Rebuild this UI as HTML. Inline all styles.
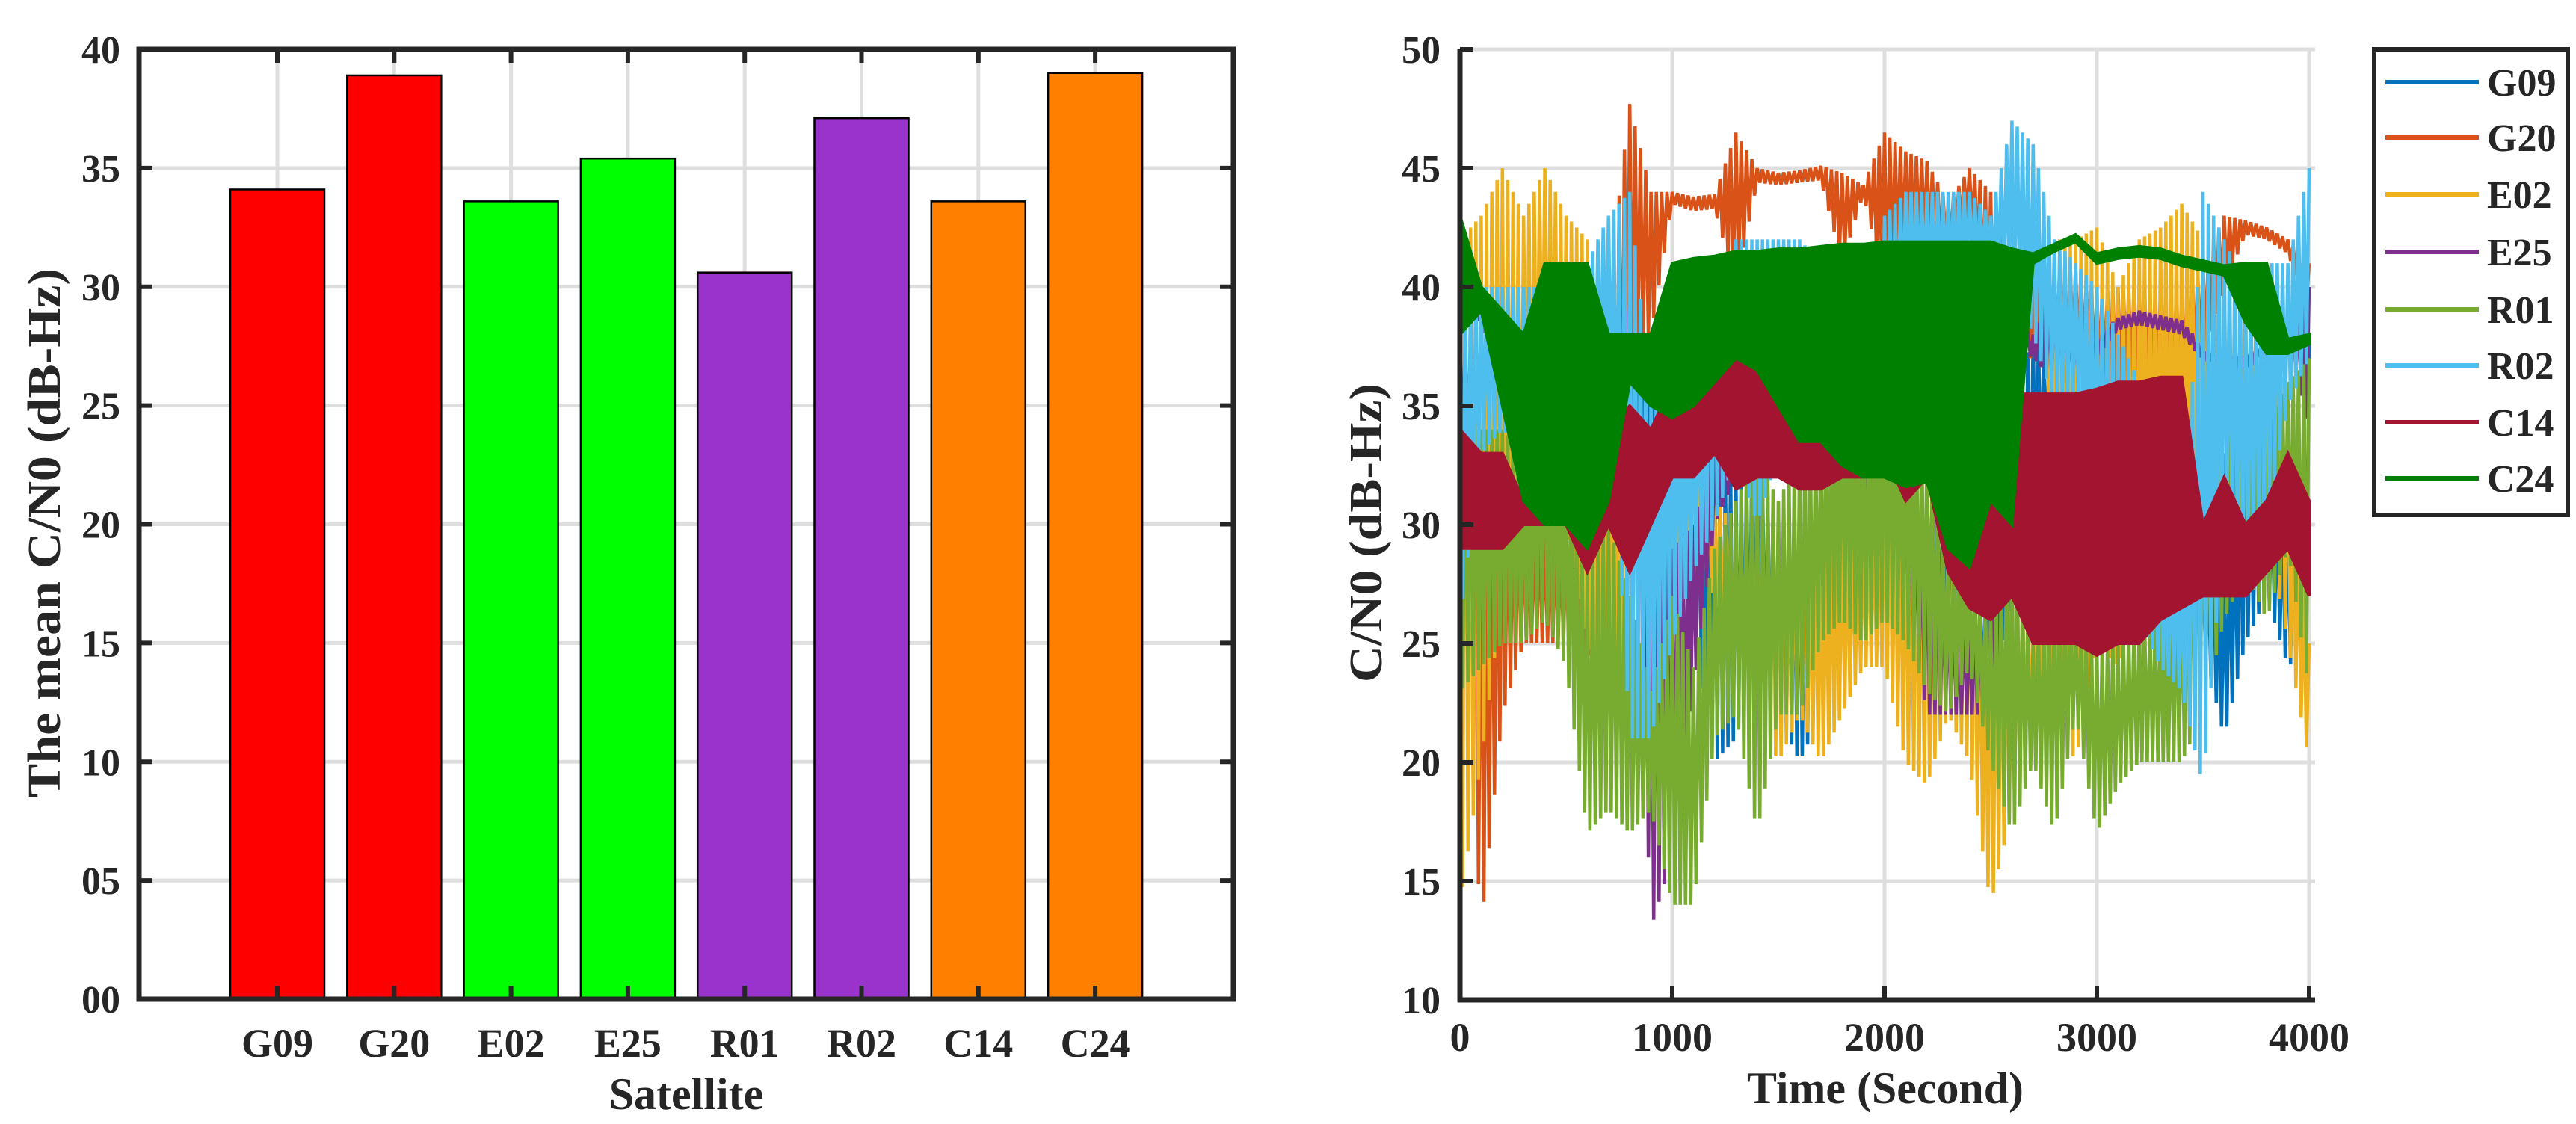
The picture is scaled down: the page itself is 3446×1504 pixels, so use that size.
<!DOCTYPE html>
<html><head><meta charset="utf-8"><style>
html,body{margin:0;padding:0;background:#fff;}
svg{display:block;}
text{font-family:"Liberation Serif",serif;font-weight:bold;fill:#262626;}
</style></head><body>
<svg id="fig" width="3446" height="1504" viewBox="0 0 3446 1504" xmlns="http://www.w3.org/2000/svg">
<g id="left"></g>
<g id="right"></g>
</svg>
<script>
// ---------- Bar chart data ----------
const satellites = ["G09","G20","E02","E25","R01","R02","C14","C24"];
const meanCN0 = [34.1,38.9,33.6,35.4,30.6,37.1,33.6,39.0];
const barColors = ["#ff0000","#ff0000","#00ff00","#00ff00","#9933cc","#9933cc","#ff8000","#ff8000"];
const barTicks = [0,5,10,15,20,25,30,35,40];
const barTickLabels = ["00","05","10","15","20","25","30","35","40"];

// ---------- Time series data (100 s bins, envelope lo/hi) ----------
const times = [0,100,200,300,400,500,600,700,800,900,1000,1100,1200,1300,1400,1500,1600,1700,1800,1900,2000,2100,2200,2300,2400,2500,2600,2700,2800,2900,3000,3100,3200,3300,3400,3500,3600,3700,3800,3900,4000];
const seriesNames = ["G09","G20","E02","E25","R01","R02","C14","C24"];
const g09Hi = [38,38,37,37,37,36,36,37,38,38,40,35,33,32,33,30,30,30,32,34,34,33,32,30,28,27,35,38,38,39,39,39,38,35,30,28,28,33,32,30,38];
const g09Lo = [33,33,33,33,33,32,32,32,33,33,33,25,20,21,24,22,20,22,25,27,28,27,26,25,22,22,27,30,32,30,31,28,30,29,25,25,21,25,27,24,25];
const g20Hi = [41,30,32,30,30,29,28,40,47.7,44,44,43.8,43.9,46.5,45,44.8,44.9,45.1,44.8,44.3,46.5,45.7,45.3,43.5,45,44,41,41,41,41,40,40,40,40,40,41,43,42.8,42.5,42,41];
const g20Lo = [28,13,22,25,25,25,24,28,37,38,43.5,43.2,43.3,40,44.4,44.3,44.4,44.5,41,43.9,40,42,42,42,43,38,37,37,37,37,36,36,36,36,36,37,40,42.2,42,41.4,39];
const e02Hi = [42,43,45,43,45,43,42,38,36,32,31,33,31,30,31,31,30,29,30,30,32,31,30,30,29,27,28,27,42,42,42.5,40,42,42.5,43.5,42,41,40,40,35,25];
const e02Lo = [14,20,27,30,35,30,25,23,25,27,27,28,27,23,22,20,22,20,22,24,24,20,19,22,20,14,18,20,22,20,25,24,27,28,27,29,30,31,30,25,20];
const e25Hi = [40,39.5,37,36,37,37,37,40,40,29,29,30,33,34,34.5,34,34,34,34,33,32,31,30,27,26,26,38.5,38,40,37.5,38,38.7,39,38.8,38.6,37.5,37.2,37.2,37.7,38.2,40];
const e25Lo = [39,38.5,35,34,35,35,35,37,37,13,16,23,30,32,33.5,32,32,32,32,31,30,27,22,22,22,22,37.5,37,36,36.5,37,38.2,38.4,38.2,38,36.9,36.8,36.8,37.2,37.8,34];
const r01Hi = [34,34,34,33,36,33,28,30,27,23,27,24,29,31,33,31,33,34,36,35,36,35,34,29,28,26,30,25,28,26,25,25,26,26,28,34,33,36,34,36,37];
const r01Lo = [23,24,25,25,26,24,17,18,17,18,14,14,21,22,17,22,22,25,26,25,26,25,23,22,24,20,17,20,17,22,17,19,20,20,20,22,26,28,26,29,23];
const r02Hi = [40,40,40,40,40,40,41,43,44,35,38,36,40,42,42,42,42,41,41,37,43,44,44,44,44,43,47,46,42,41,40,38,36,30,28,44,42,40,41,41,45];
const r02Lo = [26,33,34,33,35,35,35,37,21,21,25,28,30,33,30,33,35,36,35,35,36,40,40,40,41,41,40,38,35,35,31,29,26,24,23,19,30,28,30,35,37];
const c14Hi = [34,33,33,31,36,36,37,34,35,34,36,37.5,37.5,37.5,37.5,36,35,34.5,34,34,35,32,33,32,31,33.5,35.5,35.5,35.5,35.5,35.7,36,36,36.2,36.2,30,32,30,31,33,31];
const c14Lo = [29,29,29,30,30,30,28,30,28,30,32,32,33,31.5,32,32,31.5,31.5,32,32,33,31,32,28,26.5,26,27,25,25,25,24.5,25,25,26,26.5,27,27,27,28,29,27];
const c24Hi = [43,40,39,38,41,41,41,38,38,38,41,41.2,41.3,41.5,41.5,41.6,41.6,41.7,41.8,41.8,41.9,41.9,41.9,41.9,41.9,41.9,41.6,41.4,41.8,42.2,41.4,41.6,41.7,41.6,41.3,41.1,40.9,41.0,41.0,37.8,38.0];
const c24Lo = [38,39,35,31,30,30,29,31,36,35,34.5,35,36,37,36.5,35,33.5,33.5,32.5,32,32,31.6,31.8,29,28.2,31,30,41,41.5,41.9,41.0,41.2,41.3,41.2,40.9,40.7,40.5,38.5,37.2,37.2,37.6];
const timeTicks = [0,1000,2000,3000,4000];
const cnTicks = [10,15,20,25,30,35,40,45,50];

const NS = "http://www.w3.org/2000/svg";
function mk(tag, attrs, parent){const e=document.createElementNS(NS,tag);for(const k in attrs)e.setAttribute(k,attrs[k]);parent.appendChild(e);return e;}

// ================= LEFT: bar chart =================
(function(){
  const g = document.getElementById('left');
  const L=186,R=1650,T=66,B=1337;
  const firstX=371, step=156.3, bw=126;
  const xOf = i => firstX + i*step;
  const yOf = v => B - (v-0)/(40-0)*(B-T);
  barTicks.forEach((v,i)=>{
    const ln = mk('line',{x1:L,x2:R,y1:yOf(v),y2:yOf(v),stroke:'#dedede','stroke-width':5},g);
    
    
  });
  satellites.forEach((s,i)=>{
    const ln = mk('line',{x1:xOf(i),x2:xOf(i),y1:T,y2:B,stroke:'#dedede','stroke-width':5},g);
    
    
  });
  meanCN0.forEach((v,i)=>{
    const r = mk('rect',{x:xOf(i)-bw/2,y:yOf(v),width:bw,height:B-yOf(v),fill:barColors[i],stroke:'#000','stroke-width':2.5},g);
    
    
  });
  barTicks.forEach((v,i)=>{
    const y=yOf(v);
    mk('line',{x1:L,x2:L+18,y1:y,y2:y,stroke:'#262626','stroke-width':6},g);
    mk('line',{x1:R,x2:R-18,y1:y,y2:y,stroke:'#262626','stroke-width':6},g);
    const t = mk('text',{x:161,y:y+18,'text-anchor':'end','font-size':52},g);
    t.textContent = barTickLabels[i];
    
    
  });
  satellites.forEach((s,i)=>{
    const x=xOf(i);
    mk('line',{x1:x,x2:x,y1:B,y2:B-18,stroke:'#262626','stroke-width':6},g);
    mk('line',{x1:x,x2:x,y1:T,y2:T+18,stroke:'#262626','stroke-width':6},g);
    const t = mk('text',{x:x,y:1414,'text-anchor':'middle','font-size':54},g);
    t.textContent = s;
    
    
  });
  const fr = mk('rect',{x:L,y:T,width:R-L,height:B-T,fill:'none',stroke:'#262626','stroke-width':7},g);
  
  
  const xt = mk('text',{x:918,y:1484,'text-anchor':'middle','font-size':60},g);
  xt.textContent='Satellite';
  
  
  const yt = mk('text',{x:0,y:0,'text-anchor':'middle','font-size':62,transform:'translate(80,713) rotate(-90)',textLength:708,lengthAdjust:'spacingAndGlyphs'},g);
  yt.textContent='The mean C/N0 (dB-Hz)';
  
  
})();

// ================= RIGHT: time series =================
(function(){
  const g = document.getElementById('right');
  const L=1953,R=3097,T=66,B=1338;
  const xOf = t => L + t/4000*(3089-L);
  const yOf = v => B - (v-10)/(50-10)*(B-T);
  const cols = ["#0072BD","#D95319","#EDB120","#7E2F8E","#77AC30","#4DBEEE","#A2142F","#008000"];
  const his = [g09Hi,g20Hi,e02Hi,e25Hi,r01Hi,r02Hi,c14Hi,c24Hi];
  const los = [g09Lo,g20Lo,e02Lo,e25Lo,r01Lo,r02Lo,c14Lo,c24Lo];
  const filled = [false,false,false,false,false,false,true,true];
  cnTicks.forEach(v=>{
    const ln=mk('line',{x1:L,x2:R,y1:yOf(v),y2:yOf(v),stroke:'#dedede','stroke-width':5},g);
    
    
  });
  timeTicks.forEach(t=>{
    const ln=mk('line',{x1:xOf(t),x2:xOf(t),y1:T,y2:B,stroke:'#dedede','stroke-width':5},g);
    
    
  });
  const sub=8;
  seriesNames.forEach((name,s)=>{
    const hi=his[s], lo=los[s];
    const sg = mk('g',{},g);
    
    
    if(filled[s]){
      let d='';
      for(let i=0;i<times.length;i++) d+=(i?'L':'M')+xOf(times[i]).toFixed(1)+' '+yOf(hi[i]).toFixed(1);
      for(let i=times.length-1;i>=0;i--) d+='L'+xOf(times[i]).toFixed(1)+' '+yOf(lo[i]).toFixed(1);
      mk('path',{d:d+'Z',fill:cols[s],stroke:cols[s],'stroke-width':4},sg);
    } else {
      let pts=[];
      for(let i=0;i<times.length-1;i++){
        for(let k=0;k<sub;k++){
          const f=k/sub;
          const h=hi[i]+(hi[i+1]-hi[i])*f, l=lo[i]+(lo[i+1]-lo[i])*f;
          const t=times[i]+(times[i+1]-times[i])*f;
          const v=(k%2===0)?h:l;
          pts.push(xOf(t).toFixed(1)+','+yOf(v).toFixed(1));
        }
      }
      pts.push(xOf(times[times.length-1]).toFixed(1)+','+yOf(hi[times.length-1]).toFixed(1));
      mk('polyline',{points:pts.join(' '),fill:'none',stroke:cols[s],'stroke-width':4.5,'stroke-linejoin':'miter'},sg);
    }
  });
  cnTicks.forEach(v=>{
    const y=yOf(v);
    mk('line',{x1:L,x2:L+18,y1:y,y2:y,stroke:'#262626','stroke-width':6},g);
    const t=mk('text',{x:1927,y:y+18,'text-anchor':'end','font-size':52},g);
    t.textContent=String(v);
    
    
  });
  timeTicks.forEach(tv=>{
    const x=xOf(tv);
    mk('line',{x1:x,x2:x,y1:B,y2:B-18,stroke:'#262626','stroke-width':6},g);
    const t=mk('text',{x:x,y:1406,'text-anchor':'middle','font-size':54},g);
    t.textContent=String(tv);
    
    
  });
  mk('line',{x1:L,x2:L,y1:T,y2:B+3,stroke:'#262626','stroke-width':7},g);
  mk('line',{x1:L-3,x2:R,y1:B,y2:B,stroke:'#262626','stroke-width':7},g);
  const xt=mk('text',{x:2522,y:1476,'text-anchor':'middle','font-size':60,textLength:370,lengthAdjust:'spacingAndGlyphs'},g);
  xt.textContent='Time (Second)';
  
  
  const yt=mk('text',{x:0,y:0,'text-anchor':'middle','font-size':62,transform:'translate(1848,713) rotate(-90)',textLength:400,lengthAdjust:'spacingAndGlyphs'},g);
  yt.textContent='C/N0 (dB-Hz)';
  
  
  const lg=mk('g',{},g);
  
  
  mk('rect',{x:3176,y:66,width:259,height:623,fill:'#fff',stroke:'#262626','stroke-width':6},lg);
  const ly=[110,184,260,337,414,489,565,640];
  seriesNames.forEach((n,i)=>{
    const e=mk('g',{},lg);
    
    
    mk('line',{x1:3191,x2:3316,y1:ly[i],y2:ly[i],stroke:cols[i],'stroke-width':6},e);
    const t=mk('text',{x:3327,y:ly[i]+18,'font-size':52},e);
    t.textContent=n;
  });
})();
</script>
</body></html>
